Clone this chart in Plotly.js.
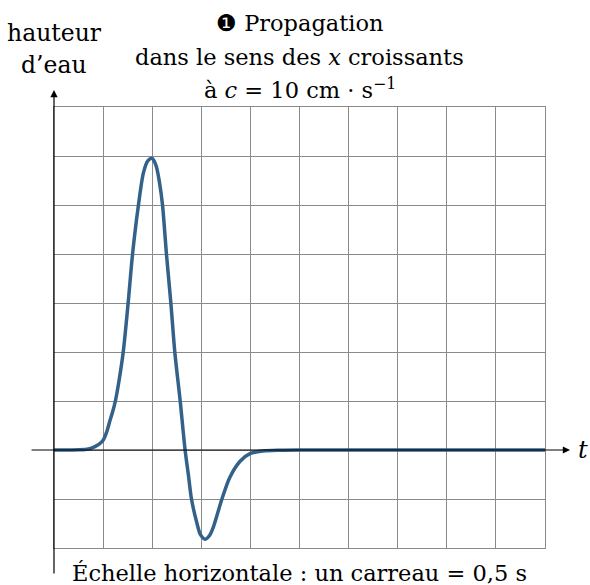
<!DOCTYPE html>
<html>
<head>
<meta charset="utf-8">
<script src="https://cdn.plot.ly/plotly-3.0.1.min.js"></script>
<style>html,body{margin:0;padding:0;background:#fff;}#chart{width:590px;height:585px;}</style>
</head>
<body>
<div id="chart"></div>
<script>
// time in seconds (one grid cell = 0.5 s), water height in grid units
const timeS = [0, 0.25, 0.35, 0.4175, 0.46, 0.5, 0.535, 0.57, 0.6, 0.625, 0.665, 0.705, 0.755, 0.8, 0.86, 0.91, 0.955, 1.0,
  1.04, 1.075, 1.105, 1.145, 1.19, 1.23, 1.285, 1.335, 1.37, 1.40, 1.455, 1.49, 1.54, 1.585, 1.625,
  1.71, 1.79, 1.895, 2.0, 2.13, 2.3, 2.5, 3.0, 4.0, 5.0];
const height = [0, 0.003, 0.02, 0.07, 0.12, 0.2, 0.36, 0.6, 0.8, 1.0, 1.45, 2.0, 3.0, 4.0, 5.0, 5.65, 5.9, 5.95,
  5.8, 5.45, 5.0, 4.0, 3.0, 2.0, 1.0, 0, -0.53, -1.0, -1.49, -1.72, -1.82, -1.74, -1.56,
  -1.0, -0.56, -0.23, -0.07, -0.02, -0.005, 0, 0, 0, 0];

const titleLines = ["❶ Propagation", "dans le sens des <i>x</i> croissants", "à <i>c</i> = 10 cm · s<sup>−1</sup>"];
const yLabelLines = ["hauteur", "d’eau"];
const xLabel = "<i>t</i>";
const footer = "Échelle horizontale : un carreau = 0,5 s";

const serif = "DejaVu Serif";
const fs = 22.5;

const trace = {
  x: timeS, y: height, type: "scatter", mode: "lines",
  line: {color: "#336189", width: 3.5, shape: "spline", smoothing: 0.8},
  hoverinfo: "skip"
};

const gridAxis = {
  showgrid: true, gridcolor: "#8a8a8a", gridwidth: 1,
  showticklabels: false, ticks: "", zeroline: false,
  showline: true, linecolor: "#8a8a8a", linewidth: 1, mirror: true, fixedrange: true
};

const annotations = [];
const titleY = [1.19, 1.113, 1.043];
titleLines.forEach((t, i) => annotations.push({
  text: t, xref: "paper", yref: "paper", x: 0.5, y: titleY[i], xanchor: "center", yanchor: "middle",
  showarrow: false, font: {family: serif, size: fs, color: "#000"}
}));
const ylabY = [1.168, 1.095];
yLabelLines.forEach((t, i) => annotations.push({
  text: t, xref: "paper", yref: "paper", x: 0.0, y: ylabY[i], xanchor: "center", yanchor: "middle",
  showarrow: false, font: {family: serif, size: 23.5, color: "#000"}
}));
annotations.push({
  text: xLabel, xref: "paper", yref: "y", x: 1.078, y: 0, xanchor: "center", yanchor: "middle",
  showarrow: false, font: {family: serif, size: 24, color: "#000"}
});
annotations.push({
  text: footer, xref: "paper", yref: "paper", x: 0.5, y: -0.056, xanchor: "center", yanchor: "middle",
  showarrow: false, font: {family: serif, size: 22.5, color: "#000"}
});
// axis arrows
annotations.push({
  text: "", xref: "paper", yref: "y", x: 1.051, y: 0, ax: -540, ay: 0, axref: "pixel", ayref: "pixel",
  showarrow: true, arrowhead: 2, arrowsize: 1.2, arrowwidth: 1.2, arrowcolor: "#000"
});
annotations.push({
  text: "", xref: "paper", yref: "paper", x: 0, y: 1.0385, ax: 0, ay: 485, axref: "pixel", ayref: "pixel",
  showarrow: true, arrowhead: 2, arrowsize: 1.2, arrowwidth: 1.2, arrowcolor: "#000"
});

const layout = {
  width: 590, height: 585,
  font: {family: serif, color: "#000", size: fs},
  margin: {l: 54, r: 45, t: 107, b: 37, pad: 0},
  paper_bgcolor: "#fff", plot_bgcolor: "#fff",
  showlegend: false,
  xaxis: Object.assign({range: [0, 5], dtick: 0.5, tick0: 0}, gridAxis),
  yaxis: Object.assign({range: [-2, 7], dtick: 1, tick0: 0}, gridAxis),
  annotations: annotations
};

Plotly.newPlot("chart", [trace], layout, {staticPlot: true, displayModeBar: false});
</script>
</body>
</html>
